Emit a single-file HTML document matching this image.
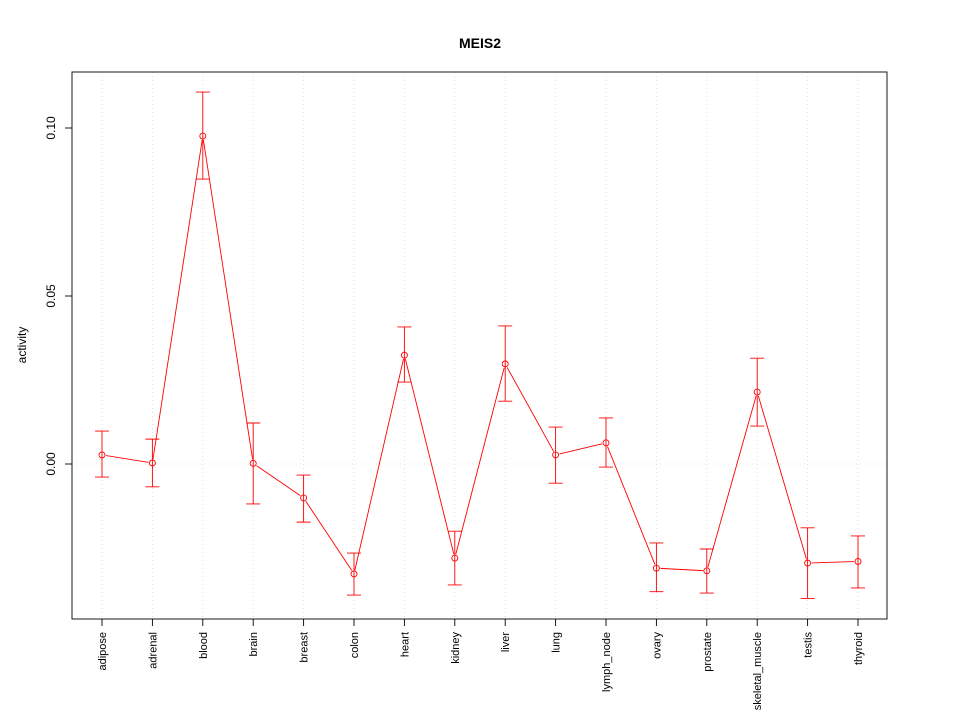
<!DOCTYPE html>
<html><head><meta charset="utf-8"><style>body{margin:0;background:#fff}svg{display:block;font-family:"Liberation Sans",Arial,sans-serif}</style></head>
<body>
<svg id="chart" width="960" height="720">
<text x="480" y="48" text-anchor="middle" font-size="14" font-weight="bold">MEIS2</text>
<text transform="translate(26,345) rotate(-90)" text-anchor="middle" font-size="12">activity</text>
<g id="grid"></g><g id="axes"></g><g id="marks"></g>
<rect x="72" y="72" width="815" height="547" fill="none" stroke="#000" stroke-width="0.9"/>
</svg>
<script>
const categories=["adipose","adrenal","blood","brain","breast","colon","heart","kidney","liver","lung","lymph_node","ovary","prostate","skeletal_muscle","testis","thyroid"];
const values=[0.0027,0.0003,0.0976,0.0002,-0.0101,-0.0327,0.0324,-0.0280,0.0298,0.0027,0.0063,-0.0310,-0.0318,0.0214,-0.0295,-0.0290];
const upper=[0.0098,0.0074,0.1107,0.0122,-0.0033,-0.0265,0.0408,-0.0200,0.0411,0.0110,0.0137,-0.0235,-0.0253,0.0315,-0.0190,-0.0214];
const lower=[-0.0039,-0.0068,0.0848,-0.0119,-0.0173,-0.0390,0.0244,-0.0360,0.0187,-0.0057,-0.0009,-0.0380,-0.0384,0.0113,-0.0400,-0.0369];
const yTicks=[0,0.05,0.10];
const yTickLabels=["0.00","0.05","0.10"];
const NS="http://www.w3.org/2000/svg";
const xs=i=>102+i*(756/(categories.length-1));
const ys=v=>464-v*3360;
function mk(t,a,p){const e=document.createElementNS(NS,t);for(const k in a)e.setAttribute(k,a[k]);p.appendChild(e);return e;}
const grid=document.getElementById('grid'),axes=document.getElementById('axes'),marks=document.getElementById('marks');
categories.forEach((c,i)=>{
 const g=mk('line',{x1:xs(i),x2:xs(i),y1:72,y2:619,stroke:'#d8d8d8','stroke-width':0.8,'stroke-dasharray':'1,3'},grid);
 
 
 const t=mk('line',{x1:xs(i),x2:xs(i),y1:619,y2:626,stroke:'#000','stroke-width':0.9},axes);
 
 
 const l=mk('text',{transform:`translate(${xs(i)+4},632) rotate(-90)`,'text-anchor':'end','font-size':'11'},axes);
 l.textContent=c;
 
 
});
const g0=mk('line',{x1:72,x2:887,y1:ys(0),y2:ys(0),stroke:'#d8d8d8','stroke-width':0.8,'stroke-dasharray':'1,3'},grid);


yTicks.forEach((v,i)=>{
 const t=mk('line',{x1:65,x2:72,y1:ys(v),y2:ys(v),stroke:'#000','stroke-width':0.9},axes);
 
 
 const l=mk('text',{transform:`translate(55,${ys(v)}) rotate(-90)`,'text-anchor':'middle','font-size':'12'},axes);
 l.textContent=yTickLabels[i];
 
 
});
for(let i=0;i<values.length-1;i++){
 const x1=xs(i),y1=ys(values[i]),x2=xs(i+1),y2=ys(values[i+1]);
 const d=Math.hypot(x2-x1,y2-y1),r=4;
 if(d>2*r){const ux=(x2-x1)/d,uy=(y2-y1)/d;
 const s=mk('line',{x1:x1+ux*r,y1:y1+uy*r,x2:x2-ux*r,y2:y2-uy*r,stroke:'red','stroke-width':0.9},marks);
 
 }
}
values.forEach((v,i)=>{
 const x=xs(i);
 const e=mk('path',{d:`M${x},${ys(upper[i])}V${ys(lower[i])}M${x-7},${ys(upper[i])}H${x+7}M${x-7},${ys(lower[i])}H${x+7}`,stroke:'red','stroke-width':0.9,fill:'none'},marks);
 
 
 const p=mk('circle',{cx:x,cy:ys(v),r:3,stroke:'red','stroke-width':0.9,fill:'none'},marks);
 
 
});
</script>
</body></html>
